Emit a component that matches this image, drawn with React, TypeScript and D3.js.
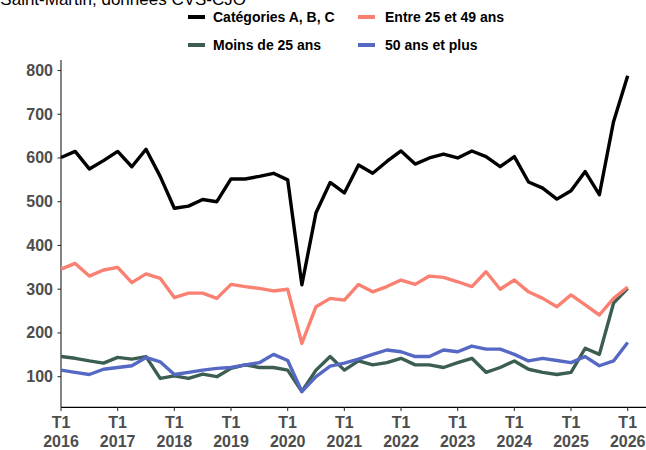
import React from "react";
import * as d3 from "d3";

const quarters: string[] = [];
for (let y = 2016; y <= 2026; y++) {
  for (let q = 1; q <= 4; q++) {
    if (y === 2026 && q > 1) break;
    quarters.push(`T${q} ${y}`);
  }
}

const categoriesABC = [601, 615, 575, 594, 615, 580, 620, 558, 485, 490, 505, 500, 552, 552, 558, 565, 550, 310, 475, 544, 520, 584, 565, 592, 616, 586, 600, 609, 600, 616, 603, 580, 603, 545, 531, 506, 525, 569, 516, 683, 788];
const entre25et49 = [346, 359, 330, 344, 350, 315, 335, 325, 281, 291, 291, 279, 311, 306, 302, 296, 300, 176, 260, 279, 275, 311, 294, 306, 321, 311, 330, 327, 317, 306, 340, 300, 321, 294, 279, 260, 287, 264, 241, 279, 305];
const moinsDe25 = [146, 142, 136, 131, 144, 140, 146, 96, 102, 96, 106, 100, 119, 127, 121, 121, 115, 66, 115, 146, 115, 136, 127, 132, 142, 127, 127, 121, 132, 142, 110, 121, 136, 117, 110, 105, 110, 165, 151, 268, 302];
const plus50 = [115, 110, 105, 117, 121, 125, 144, 134, 105, 110, 115, 119, 121, 127, 132, 151, 137, 66, 100, 124, 131, 140, 151, 161, 157, 146, 146, 161, 157, 170, 163, 163, 151, 136, 142, 137, 132, 146, 125, 136, 178];

const yTicks = [100, 200, 300, 400, 500, 600, 700, 800];
const xTickYears = ["2016", "2017", "2018", "2019", "2020", "2021", "2022", "2023", "2024", "2025", "2026"];

const seriesNames = ["Catégories A, B, C", "Entre 25 et 49 ans", "Moins de 25 ans", "50 ans et plus"];
const seriesColors = ["#000000", "#FA8072", "#3B5E50", "#5468C4"];

export default function App() {
  const W = 646, H = 450;
  const x = d3.scaleLinear().domain([0, quarters.length - 1]).range([61, 627.7]);
  const y = d3.scaleLinear().domain([30, 824]).range([407.3, 60]);
  const line = d3.line<number>().x((_, i) => x(i)).y((d) => y(d)).curve(d3.curveLinear);
  const data = [categoriesABC, entre25et49, moinsDe25, plus50];
  const drawOrder = [2, 3, 1, 0];
  const font = "'Liberation Sans', Arial, sans-serif";
  const tickColor = "#4D4D4D";

  const legendPos = [
    { sx: 188, tx: 213, y: 17 },
    { sx: 358, tx: 385, y: 17 },
    { sx: 188, tx: 213, y: 45 },
    { sx: 358, tx: 385, y: 45 },
  ];

  return (
    <svg width={W} height={H} style={{ position: "absolute", left: 0, top: 0, display: "block", background: "#fff" }} fontFamily={font}>
      <rect width={W} height={H} fill="#fff" />
      <text x={246} y={5} textAnchor="end" fontSize={17} fill="#000">Saint-Martin, données CVS-CJO</text>

      {seriesNames.map((n, i) => (
        <g key={n}>
          <line x1={legendPos[i].sx} x2={legendPos[i].sx + 17} y1={legendPos[i].y} y2={legendPos[i].y} stroke={seriesColors[i]} strokeWidth={4} />
          <text x={legendPos[i].tx} y={legendPos[i].y + 5} fontSize={14} fontWeight="bold" fill="#000">{n}</text>
        </g>
      ))}

      <line x1={61} x2={61} y1={60} y2={407.3} stroke="#333" strokeWidth={1.2} />
      <line x1={61} x2={646} y1={407.3} y2={407.3} stroke="#000" strokeWidth={1.2} />

      {yTicks.map((t) => (
        <g key={t}>
          <line x1={57.5} x2={61} y1={y(t)} y2={y(t)} stroke="#333" strokeWidth={1.1} />
          <text x={53} y={y(t) + 5.5} textAnchor="end" fontSize={16} fontWeight="bold" fill={tickColor}>{t}</text>
        </g>
      ))}

      {xTickYears.map((yr, k) => {
        const xi = x(k * 4);
        return (
          <g key={yr}>
            <line x1={xi} x2={xi} y1={407.3} y2={411} stroke="#333" strokeWidth={1.1} />
            <text x={xi} y={428} textAnchor="middle" fontSize={16} fontWeight="bold" fill={tickColor}>T1</text>
            <text x={xi} y={447} textAnchor="middle" fontSize={16} fontWeight="bold" fill={tickColor}>{yr}</text>
          </g>
        );
      })}

      {drawOrder.map((s) => (
        <path key={s} d={line(data[s]) || ""} fill="none" stroke={seriesColors[s]} strokeWidth={3.4} strokeLinejoin="round" strokeLinecap="butt" />
      ))}
    </svg>
  );
}
